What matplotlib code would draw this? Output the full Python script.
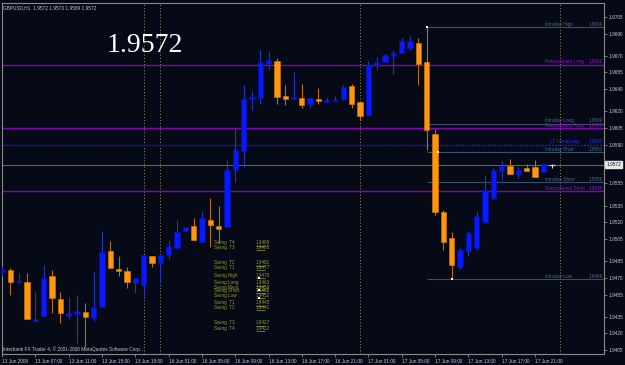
import matplotlib
matplotlib.use("Agg")
import matplotlib.pyplot as plt
from matplotlib import transforms

# ---- data (GBPUSD H1) ----
time_labels = ["13 Jun 2008", "13 Jun 07:00", "13 Jun 11:00", "13 Jun 15:00", "13 Jun 19:00",
               "16 Jun 01:00", "16 Jun 05:00", "16 Jun 09:00", "16 Jun 13:00", "16 Jun 17:00",
               "16 Jun 21:00", "17 Jun 01:00", "17 Jun 05:00", "17 Jun 09:00", "17 Jun 13:00",
               "17 Jun 17:00", "17 Jun 21:00"]

opens = [1.9475, 1.9477, 1.9466, 1.9466, 1.9431, 1.9436, 1.9472, 1.9451, 1.9436, 1.9437,
         1.9439, 1.9434, 1.9444, 1.9494, 1.9478, 1.9476, 1.9465, 1.9464, 1.9490, 1.9483,
         1.9491, 1.9497, 1.9512, 1.9517, 1.9502, 1.9522, 1.9517, 1.9516, 1.9567, 1.9584,
         1.9631, 1.9632, 1.9663, 1.9665, 1.9634, 1.9631, 1.9632, 1.9627, 1.9631, 1.9628,
         1.9629, 1.9631, 1.9643, 1.9628, 1.9617, 1.9662, 1.9664, 1.9670, 1.9673, 1.9677,
         1.9682, 1.9664, 1.9600, 1.9529, 1.9506, 1.9480, 1.9494, 1.9497, 1.9520, 1.9542,
         1.9566, 1.9571, 1.9564, 1.9569, 1.9570, 1.9565, 1.9572]
highs = [1.9481, 1.9479, 1.9474, 1.9474, 1.9457, 1.9482, 1.9477, 1.9457, 1.9453, 1.9455,
         1.9447, 1.9475, 1.9512, 1.9503, 1.9490, 1.9480, 1.9470, 1.9491, 1.9490, 1.9492,
         1.9504, 1.9522, 1.9516, 1.9524, 1.9530, 1.9542, 1.9535, 1.9576, 1.9605, 1.9644,
         1.9638, 1.9675, 1.9674, 1.9668, 1.9644, 1.9655, 1.9645, 1.9632, 1.9641, 1.9633,
         1.9634, 1.9644, 1.9645, 1.9628, 1.9665, 1.9669, 1.9672, 1.9675, 1.9686, 1.9688,
         1.9686, 1.9696, 1.9604, 1.9531, 1.9511, 1.9497, 1.9512, 1.9530, 1.9563, 1.9569,
         1.9575, 1.9577, 1.9570, 1.9573, 1.9576, 1.9573, 1.9573]
lows = [1.9472, 1.9455, 1.9465, 1.9433, 1.9431, 1.9436, 1.9438, 1.9429, 1.9433, 1.9411,
        1.9408, 1.9431, 1.9444, 1.9479, 1.9472, 1.9461, 1.9456, 1.9453, 1.9480, 1.9465,
        1.9487, 1.9496, 1.9511, 1.9504, 1.9502, 1.9498, 1.9501, 1.9516, 1.9556, 1.9570,
        1.9621, 1.9627, 1.9657, 1.9627, 1.9626, 1.9631, 1.9623, 1.9624, 1.9627, 1.9628,
        1.9629, 1.9630, 1.9623, 1.9612, 1.9617, 1.9657, 1.9664, 1.9654, 1.9673, 1.9675,
        1.9644, 1.9585, 1.9527, 1.9495, 1.9469, 1.9478, 1.9490, 1.9495, 1.9519, 1.9541,
        1.9558, 1.9564, 1.9560, 1.9566, 1.9561, 1.9565, 1.9569]
closes = [1.9477, 1.9466, 1.9467, 1.9433, 1.9433, 1.9470, 1.9452, 1.9438, 1.9438, 1.9440,
          1.9435, 1.9444, 1.9493, 1.9479, 1.9476, 1.9466, 1.9470, 1.9491, 1.9483, 1.9491,
          1.9499, 1.9511, 1.9516, 1.9504, 1.9524, 1.9518, 1.9514, 1.9567, 1.9585, 1.9631,
          1.9633, 1.9664, 1.9666, 1.9633, 1.9631, 1.9633, 1.9626, 1.9632, 1.9629, 1.9630,
          1.9630, 1.9642, 1.9627, 1.9616, 1.9662, 1.9664, 1.9671, 1.9673, 1.9683, 1.9683,
          1.9663, 1.9603, 1.9529, 1.9502, 1.9482, 1.9495, 1.9510, 1.9526, 1.9549, 1.9567,
          1.9571, 1.9564, 1.9567, 1.9566, 1.9561, 1.9573, 1.9572]

price_ticks = [1.9705, 1.9690, 1.9670, 1.9655, 1.9640, 1.9620, 1.9605, 1.9590, 1.9555,
               1.9535, 1.9520, 1.9505, 1.9485, 1.9470, 1.9455, 1.9435, 1.9420, 1.9405]
separators = [17, 19, 43, 67]
bid = 1.9572

intraday_names = ["Intraday High", "Intraday Long", "Intraday Pivot", "Intraday Short", "Intraday Low"]
intraday_levels = [1.9696, 1.9609, 1.9583, 1.9556, 1.9469]
retr_names = ["Retracement Long", "Retracement Pivot", "Retracement Short"]
retr_levels = [1.9662, 1.9605, 1.9548]
lt_name = "LT TrendLong"
lt_level = 1.9590

swing_names = ["Swing  T4", "Swing  T3", "Swing  T2", "Swing  T1", "Swing High", "Swing Long",
               "Swing Pivot", "Swing Short", "Swing Low", "Swing  T1", "Swing  T2",
               "Swing  T3", "Swing  T4"]
swing_levels = [1.9499, 1.9495, 1.9481, 1.9477, 1.9470, 1.9463, 1.9459, 1.9456, 1.9452,
                1.9445, 1.9441, 1.9427, 1.9422]

# ---- style ----
BG = "#050a16"
UP, UP_EDGE, UP_WICK = "#0a18ff", "#0010c0", "#2436b8"
DN, DN_EDGE, DN_WICK = "#ff9610", "#e07a00", "#b86e10"
FG = "#c8c8c8"
FONT = "Liberation Sans"
small = dict(fontsize=3.3, family=FONT)

fig = plt.figure(figsize=(6.25, 3.65), dpi=100)
fig.patch.set_facecolor(BG)
ax = fig.add_axes([2 / 625, 11 / 365, 602 / 625, 351 / 365])
ax.set_facecolor(BG)
ax.set_xlim(0.04, 72.28)
ax.set_ylim(1.94014, 1.97176)

# period separators
for s in separators:
    ax.axvline(s, color="#8a7a5a", lw=0.7, ls=(0, (1.2, 2.0)), zorder=1)

# horizontal levels
for lv in retr_levels:
    ax.axhline(lv, color="#8a00b8", lw=1.0, zorder=2)
ax.axhline(lt_level, color="#1020e0", lw=1.0, ls=(0, (1.5, 0.8)), zorder=2)
ax.axhline(bid, color="#2a8a2a", lw=0.8, zorder=2)
for lv in intraday_levels:
    ax.hlines(lv, 51, 72.3, color="#34506a", lw=0.8, zorder=2)

# candles
for i in range(len(opens)):
    o, h, l, c = opens[i], highs[i], lows[i], closes[i]
    if i == len(opens) - 1:
        ax.vlines(i, l, h, color="#d8d8d8", lw=0.8, zorder=4)
        ax.hlines(c, i - 0.35, i + 0.35, color="#d8d8d8", lw=0.8, zorder=4)
        continue
    up = c >= o
    ax.vlines(i, l, h, color=UP_WICK if up else DN_WICK, lw=0.8, zorder=3)
    bot, top = min(o, c), max(o, c)
    hgt = max(top - bot, 0.00008)
    ax.bar(i, hgt, bottom=bot, width=0.64, color=UP if up else DN,
           edgecolor=UP_EDGE if up else DN_EDGE, linewidth=0.4, zorder=4)

# level labels on the right
for name, lv in zip(intraday_names, intraday_levels):
    ax.text(65.2, lv + 0.00003, name, color="#4d6c8c", va="bottom", **small)
    ax.text(70.5, lv + 0.00003, f"{lv:.4f}", color="#4d6c8c", va="bottom", **small)
for name, lv in zip(retr_names, retr_levels):
    ax.text(65.2, lv + 0.00003, name, color="#9a10c8", va="bottom", **small)
    ax.text(70.5, lv + 0.00003, f"{lv:.4f}", color="#9a10c8", va="bottom", **small)
ax.text(65.8, lt_level + 0.00003, lt_name, color="#2030ff", va="bottom", **small)
ax.text(70.5, lt_level + 0.00003, f"{lt_level:.4f}", color="#2030ff", va="bottom", **small)

# markers
for x, lv in [(51, intraday_levels[0]), (54, intraday_levels[4]), (52.3, intraday_levels[2])]:
    ax.plot(x, lv, "s", ms=1.6, color="white", mew=0, zorder=5)

# swing block
for name, lv in zip(swing_names, swing_levels):
    ax.text(25.5, lv + 0.00002, name, color="#9c9c24", va="bottom", **small)
    ax.text(30.5, lv + 0.00002, f"{lv:.4f}", color="#9c9c24", va="bottom", **small)
    ax.hlines(lv, 30.5, 31.6, color="#9c9c24", lw=0.5, zorder=3)
for k in (4, 6, 8):
    ax.plot(30.9, swing_levels[k], "s", ms=1.5, color="white", mew=0, zorder=5)

# big price and header texts
ax.text(12.6, 1.9679, f"{bid:.4f}", color="white", fontsize=20,
        family="Liberation Serif", va="center", ha="left")
ax.text(0.15, 1.9713, "GBPUSD,H1  1.9572 1.9573 1.9569 1.9572", color=FG, va="center",
        fontsize=3.4, family=FONT)
ax.text(0.15, 1.9406, "Interbank FX Trader 4, \u00a9 2001-2008 MetaQuotes Software Corp.",
        color=FG, va="center", fontsize=3.4, family=FONT)

# axes
for sp in ax.spines.values():
    sp.set_color("#8a8a8a")
    sp.set_linewidth(0.8)
ax.yaxis.tick_right()
ax.set_yticks(price_ticks)
ax.set_yticklabels([f"{p:.4f}" for p in price_ticks], family=FONT)
ax.set_xticks(range(0, 4 * len(time_labels), 4))
ax.set_xticklabels(time_labels, ha="left", family=FONT)
ax.tick_params(axis="both", colors="#8a8a8a", labelcolor=FG, labelsize=3.4, length=2.5,
               width=0.6, pad=1)

# bid box on price scale
trans = transforms.blended_transform_factory(ax.transAxes, ax.transData)
ax.text(1.004, bid, f"{bid:.4f}", transform=trans, fontsize=3.4, family=FONT, color="#101010",
        va="center", ha="left", bbox=dict(boxstyle="square,pad=0.25", fc="#e8e8e8", ec="#e8e8e8"))

fig.savefig("out.png", dpi=100, facecolor=BG)
